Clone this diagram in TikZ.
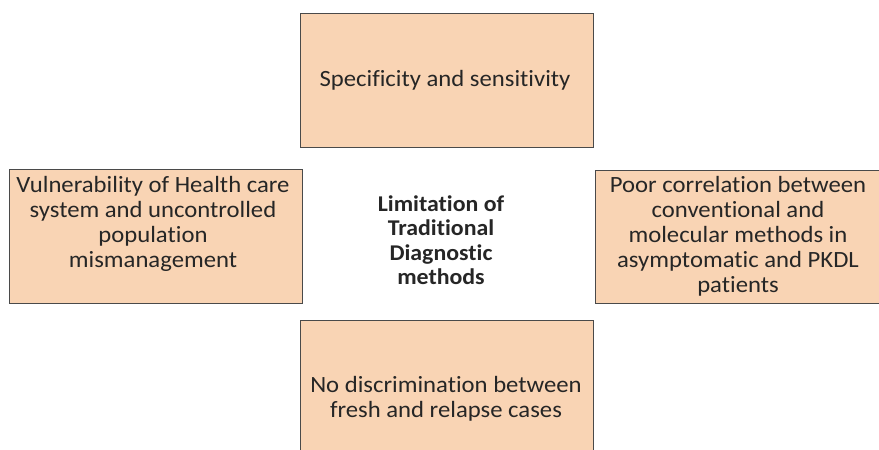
\documentclass[tikz,border=0pt]{standalone}
\usepackage{fontspec}
\setmainfont{Carlito}[FakeStretch=1.06,Ligatures=NoCommon]
\definecolor{peach}{HTML}{F9D4B4}
\definecolor{edge}{HTML}{4A4A4A}
\begin{document}
\begin{tikzpicture}[x=1pt,y=1pt,
  box/.style={draw=edge,line width=0.9pt,fill=peach,rectangle,inner sep=0pt},
  txt/.style={align=center,font=\fontsize{23.3}{25}\selectfont,text=black!85,inner sep=0pt}]
\useasboundingbox (0,0) rectangle (879,450);
\clip (0,0) rectangle (879,450);
\fill[white] (0,0) rectangle (879,450);
% boxes
\node[box,minimum width=293pt,minimum height=134pt] (top) at (446.5,370) {};
\node[box,minimum width=293pt,minimum height=134pt] (left) at (155.5,214) {};
\node[box,minimum width=295pt,minimum height=133pt] (right) at (742.5,213.5) {};
\node[box,minimum width=293pt,minimum height=150pt] (bottom) at (446.5,55) {};
% texts
\node[txt] (ttop) at (445,370) {Specificity and sensitivity};
\node[txt] (tleft) at (153,226) {Vulnerability of Health care\\system and uncontrolled\\population\\mismanagement};
\node[txt] (tright) at (738,214) {Poor correlation between\\conventional and\\molecular methods in\\asymptomatic and PKDL\\patients};
\node[txt] (tbottom) at (446,51) {No discrimination between\\fresh and relapse cases};
\node[txt,font=\bfseries\fontsize{22.5}{24.5}\selectfont] (center) at (441,210) {Limitation of\\Traditional\\Diagnostic\\methods};
\end{tikzpicture}
\end{document}
